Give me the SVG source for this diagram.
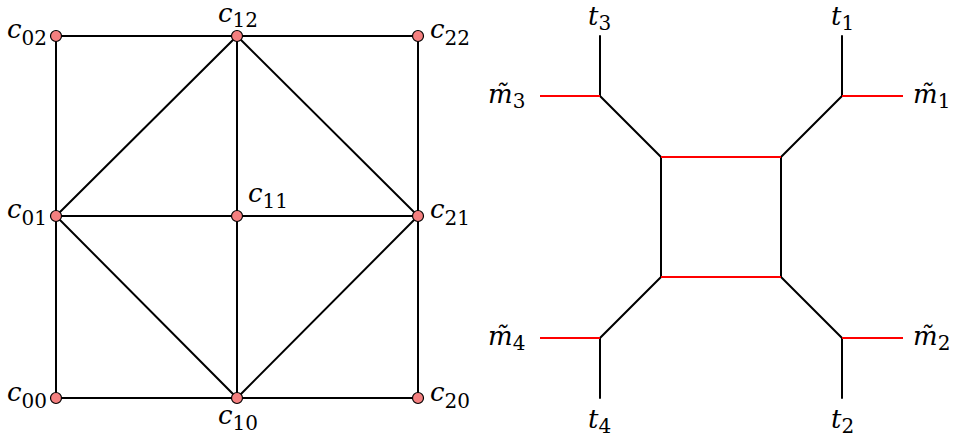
<svg xmlns="http://www.w3.org/2000/svg" width="954" height="440" viewBox="0 0 954 440">
<style>
.e{stroke:#000;stroke-width:2;fill:none;stroke-linecap:round}
.r{stroke:#ff0000;stroke-width:2;fill:none}
.n{fill:#f47f7f;stroke:#000;stroke-width:1.2}
.i{font-style:italic}
.s{font-size:20px;font-style:normal}
</style>
<rect width="954" height="440" fill="#fff"/>
<g id="connectors">
<path class="e" d="M56,36H418M56,216H418M56,398H418M56,36V398M237,36V398M418,36V398"/>
<path class="e" d="M56,216L237,36L418,216L237,398Z"/>
<path class="e" d="M600,36V96L661,157M600,398V338L661,277M842,36V96L781,157M842,398V338L781,277M661,157V277M781,157V277"/>
<path class="r" d="M540,96H600M540,338H600M842,96H903M842,338H903M661,157H781M661,277H781"/>
</g>
<g font-family="DejaVu Serif, serif" font-size="26" fill="#000">
<g id="c02"><circle class="n" cx="56" cy="36" r="5.5"/><text x="7" y="38"><tspan class="i">c</tspan><tspan class="s" dy="7">02</tspan></text></g>
<g id="c12"><circle class="n" cx="237" cy="36" r="5.5"/><text x="218" y="22"><tspan class="i">c</tspan><tspan class="s" dy="5">12</tspan></text></g>
<g id="c22"><circle class="n" cx="418" cy="36" r="5.5"/><text x="430" y="38"><tspan class="i">c</tspan><tspan class="s" dy="7">22</tspan></text></g>
<g id="c01"><circle class="n" cx="56" cy="216" r="5.5"/><text x="7" y="218"><tspan class="i">c</tspan><tspan class="s" dy="7">01</tspan></text></g>
<g id="c11"><circle class="n" cx="237" cy="216" r="5.5"/><text x="248" y="202"><tspan class="i">c</tspan><tspan class="s" dy="6">11</tspan></text></g>
<g id="c21"><circle class="n" cx="418" cy="216" r="5.5"/><text x="430" y="218"><tspan class="i">c</tspan><tspan class="s" dy="7">21</tspan></text></g>
<g id="c00"><circle class="n" cx="56" cy="398" r="5.5"/><text x="7" y="401"><tspan class="i">c</tspan><tspan class="s" dy="7">00</tspan></text></g>
<g id="c10"><circle class="n" cx="237" cy="398" r="5.5"/><text x="218" y="424"><tspan class="i">c</tspan><tspan class="s" dy="6">10</tspan></text></g>
<g id="c20"><circle class="n" cx="418" cy="398" r="5.5"/><text x="430" y="401"><tspan class="i">c</tspan><tspan class="s" dy="7">20</tspan></text></g>
<g id="t3"><text x="588" y="25"><tspan class="i">t</tspan><tspan class="s" dy="5">3</tspan></text></g>
<g id="t1"><text x="831" y="25"><tspan class="i">t</tspan><tspan class="s" dy="5">1</tspan></text></g>
<g id="t4"><text x="588" y="428"><tspan class="i">t</tspan><tspan class="s" dy="5">4</tspan></text></g>
<g id="t2"><text x="831" y="428"><tspan class="i">t</tspan><tspan class="s" dy="5">2</tspan></text></g>
<g id="m3"><text x="488" y="103"><tspan class="i">m̃</tspan><tspan class="s" dy="5">3</tspan></text></g>
<g id="m1"><text x="913" y="103"><tspan class="i">m̃</tspan><tspan class="s" dy="5">1</tspan></text></g>
<g id="m4"><text x="488" y="345"><tspan class="i">m̃</tspan><tspan class="s" dy="5">4</tspan></text></g>
<g id="m2"><text x="913" y="345"><tspan class="i">m̃</tspan><tspan class="s" dy="5">2</tspan></text></g>
</g>
</svg>
